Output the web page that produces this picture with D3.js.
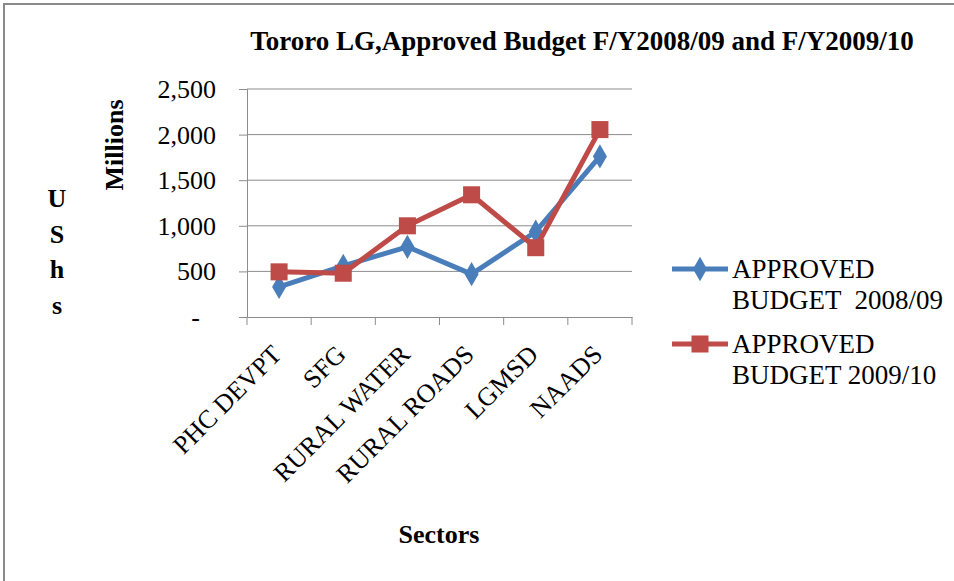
<!DOCTYPE html>
<html>
<head>
<meta charset="utf-8">
<script src="https://cdn.jsdelivr.net/npm/d3@7"></script>
<style>
  body { margin: 0; background: #fff; }
  text { font-family: "Liberation Serif", "Times New Roman", serif; fill: #000; }
</style>
</head>
<body>
<div id="chart"></div>
<script>
// Chart data
const sectors = ["PHC DEVPT", "SFG", "RURAL WATER", "RURAL ROADS", "LGMSD", "NAADS"];
const budget0809 = [330, 560, 770, 470, 935, 1760];
const budget0910 = [495, 480, 1000, 1340, 760, 2055];
const yTicks = [0, 500, 1000, 1500, 2000, 2500];
const seriesNames = [["APPROVED", "BUDGET  2008/09"], ["APPROVED", "BUDGET 2009/10"]];

const width = 954, height = 581;
const plot = { left: 247, right: 632, top: 89, bottom: 317 };
const serif = "'Liberation Serif', 'Times New Roman', serif";

const svg = d3.select("#chart")
    .append("svg")
    .attr("width", width)
    .attr("height", height);

// Outer frame (only left and top edges visible in the picture)
svg.append("rect")
    .attr("x", 4)
    .attr("y", 4)
    .attr("width", width + 10)
    .attr("height", height + 10)
    .style("fill", "none")
    .style("stroke", "#8a8a8a")
    .style("stroke-width", 2);

const x = d3.scaleBand()
    .domain(sectors)
    .range([plot.left, plot.right]);

const y = d3.scaleLinear()
    .domain([0, 2500])
    .range([plot.bottom, plot.top]);

const fmt = d => d === 0 ? "-" : d3.format(",")(d);

// Gridlines
svg.append("g")
    .selectAll("line")
    .data(yTicks.filter(d => d > 0))
    .join("line")
    .attr("x1", plot.left)
    .attr("x2", plot.right)
    .attr("y1", d => y(d))
    .attr("y2", d => y(d))
    .style("stroke", "#8c8c8c")
    .style("stroke-width", 1);

// Y axis
const yAxis = svg.append("g")
    .attr("transform", `translate(${plot.left},0)`)
    .call(d3.axisLeft(y).tickValues(yTicks).tickSize(8).tickFormat(fmt));
yAxis.attr("font-family", serif);
yAxis.selectAll("path, line").style("stroke", "#8c8c8c");
yAxis.selectAll("text")
    .style("font-size", "26px")
    .attr("x", d => d === 0 ? -47 : -31)
    .attr("dy", "0.33em");

// X axis
const xAxis = svg.append("g")
    .attr("transform", `translate(0,${plot.bottom})`)
    .call(d3.axisBottom(x).tickSize(0).tickFormat(""));
xAxis.select(".domain").style("stroke", "#8c8c8c");
svg.append("g")
    .selectAll("line")
    .data(d3.range(sectors.length + 1))
    .join("line")
    .attr("x1", i => plot.left + i * x.step())
    .attr("x2", i => plot.left + i * x.step())
    .attr("y1", plot.bottom)
    .attr("y2", plot.bottom + 8)
    .style("stroke", "#8c8c8c");

svg.append("g")
    .selectAll("text")
    .data(sectors)
    .join("text")
    .attr("transform", d => `translate(${x(d) + x.bandwidth() / 2 + 4},${plot.bottom + 39}) rotate(-45)`)
    .attr("text-anchor", "end")
    .attr("font-family", serif)
    .style("font-size", "26px")
    .text(d => d);

// Lines and markers
const cx = d => x(d) + x.bandwidth() / 2;
const series = [
    { values: budget0809, color: "#4a7ebb", symbol: d3.symbolDiamond, size: 170 },
    { values: budget0910, color: "#be4b48", symbol: d3.symbolSquare, size: 290 }
];

const line = d3.line()
    .x((d, i) => cx(sectors[i]))
    .y(d => y(d));

series.forEach(s => {
    svg.append("path")
        .datum(s.values)
        .attr("d", line)
        .style("fill", "none")
        .style("stroke", s.color)
        .style("stroke-width", 5)
        .style("stroke-linejoin", "round");

    svg.append("g")
        .selectAll("path")
        .data(s.values)
        .join("path")
        .attr("transform", (d, i) => `translate(${cx(sectors[i])},${y(d)})`)
        .attr("d", d3.symbol().type(s.symbol).size(s.size))
        .style("fill", s.color);
});

// Titles
svg.append("text")
    .attr("x", 582)
    .attr("y", 50)
    .attr("text-anchor", "middle")
    .attr("font-family", serif)
    .style("font-size", "27px")
    .style("font-weight", "bold")
    .text("Tororo LG,Approved Budget F/Y2008/09 and F/Y2009/10");

svg.append("text")
    .attr("transform", "translate(123,145) rotate(-90)")
    .attr("text-anchor", "middle")
    .attr("font-family", serif)
    .style("font-size", "26px")
    .style("font-weight", "bold")
    .text("Millions");

svg.append("g")
    .selectAll("text")
    .data(["U", "S", "h", "s"])
    .join("text")
    .attr("x", 57)
    .attr("y", (d, i) => 207 + i * 35.5)
    .attr("text-anchor", "middle")
    .attr("font-family", serif)
    .style("font-size", "26px")
    .style("font-weight", "bold")
    .text(d => d);

svg.append("text")
    .attr("x", 439)
    .attr("y", 543)
    .attr("text-anchor", "middle")
    .attr("font-family", serif)
    .style("font-size", "26px")
    .style("font-weight", "bold")
    .text("Sectors");

// Legend
const legend = svg.append("g");
series.forEach((s, i) => {
    const ly = 269 + i * 75;
    legend.append("line")
        .attr("x1", 672)
        .attr("x2", 728)
        .attr("y1", ly)
        .attr("y2", ly)
        .style("stroke", s.color)
        .style("stroke-width", 5);
    legend.append("path")
        .attr("transform", `translate(700,${ly})`)
        .attr("d", d3.symbol().type(s.symbol).size(s.size))
        .style("fill", s.color);
    seriesNames[i].forEach((t, j) => {
        legend.append("text")
            .attr("x", 732)
            .attr("y", ly + 9 + j * 31)
            .attr("font-family", serif)
            .style("font-size", "27px")
            .style("white-space", "pre")
            .text(t);
    });
});
</script>
</body>
</html>
